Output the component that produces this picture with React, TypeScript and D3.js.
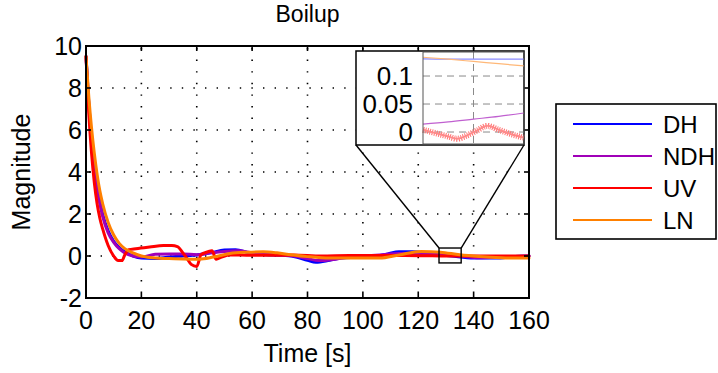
import React from "react";
import * as d3 from "d3";

const W = 718;
const H = 373;

// ---------- data ----------
const xTicks = [0, 20, 40, 60, 80, 100, 120, 140, 160];
const yTicks = [-2, 0, 2, 4, 6, 8, 10];
const seriesNames = ["DH", "NDH", "UV", "LN"];
const seriesColors = ["#0000ff", "#a000b8", "#ff0000", "#ff8000"];

const tDH = [0, 1, 2, 3, 4, 5, 6, 8, 10, 12, 14, 17, 20, 25, 30, 35, 40, 45, 50, 54, 59, 65, 70, 75, 80, 83, 88, 92, 97, 104, 109, 113, 118, 125, 132, 140, 148, 155, 160];
const vDH = [9.5, 7.3, 5.6, 4.3, 3.3, 2.6, 2.0, 1.2, 0.7, 0.4, 0.2, 0.0, -0.1, -0.12, -0.05, 0.0, 0.05, 0.15, 0.28, 0.3, 0.15, 0.06, 0.04, -0.02, -0.2, -0.3, -0.2, -0.1, -0.06, -0.03, 0.1, 0.2, 0.2, 0.1, 0.0, -0.1, -0.1, -0.02, 0.0];

const tNDH = [0, 1, 2, 3, 4, 5, 6, 8, 10, 12, 14, 17, 20, 25, 30, 35, 40, 45, 50, 55, 60, 65, 70, 75, 80, 84, 90, 95, 100, 106, 113, 120, 128, 135, 142, 150, 160];
const vNDH = [9.5, 7.2, 5.5, 4.2, 3.2, 2.5, 1.9, 1.1, 0.65, 0.35, 0.15, 0.0, -0.05, 0.08, 0.1, 0.1, 0.06, 0.15, 0.22, 0.25, 0.15, 0.08, 0.05, 0.0, -0.12, -0.22, -0.15, -0.05, 0.0, 0.05, 0.12, 0.12, 0.05, 0.0, -0.08, -0.05, 0.0];

const tUV = [0, 1, 2, 3, 4, 5, 6, 8, 10, 11.6, 13, 14, 15.5, 18, 23, 28, 31, 33, 35, 36.5, 38, 40, 41.5, 44, 45.5, 47, 49, 52, 58, 65, 75, 85, 95, 105, 115, 125, 135, 145, 160];
const vUV = [9.5, 6.8, 4.9, 3.5, 2.5, 1.8, 1.3, 0.5, 0.0, -0.22, -0.22, 0.05, 0.3, 0.35, 0.43, 0.5, 0.5, 0.45, 0.15, -0.12, -0.4, -0.5, 0.05, 0.2, 0.25, -0.15, -0.05, 0.05, 0.04, 0.03, 0.05, 0.0, 0.02, 0.02, 0.02, 0.01, 0.0, 0.0, 0.0];

const tLN = [0, 1, 2, 3, 4, 5, 6, 8, 10, 12, 14, 17, 20, 25, 30, 35, 41, 46, 52, 58, 64, 69, 74, 80, 88, 96, 106, 113, 121, 128, 135, 142, 150, 157, 160];
const vLN = [9.5, 7.6, 6.1, 4.9, 3.9, 3.1, 2.5, 1.6, 1.0, 0.6, 0.35, 0.15, 0.0, -0.1, -0.12, -0.14, -0.15, -0.05, 0.12, 0.18, 0.2, 0.15, 0.06, -0.03, -0.1, -0.1, -0.1, 0.05, 0.22, 0.18, 0.06, -0.02, -0.08, -0.1, -0.1];

// zoom window (data coords of small rectangle)
const zoomX = [127.5, 135.5];
const zoomY = [-0.33, 0.38];

// inset data
const insetXTicks = [132];
const insetYTicks = [0, 0.05, 0.1];
const insetYLabels = ["0", "0.05", "0.1"];
const itDH = [128, 130, 132, 134, 136];
const ivDH = [0.1305, 0.1302, 0.13, 0.13, 0.1301];
const itNDH = [128, 130, 132, 134, 136];
const ivNDH = [0.014, 0.018, 0.023, 0.028, 0.034];
const itUV = [128, 129, 130, 130.7, 131.5, 132.3, 133.1, 134, 135, 136];
const ivUV = [0.004, -0.002, -0.008, -0.012, -0.006, 0.003, 0.011, 0.004, -0.004, -0.01];
const itLN = [128, 130, 132, 134, 136];
const ivLN = [0.1335, 0.13, 0.126, 0.122, 0.118];

// ---------- layout ----------
const PL = 86, PR = 529, PT = 46, PB = 298;
const FONT = "'Liberation Sans', Arial, Helvetica, sans-serif";

export default function App() {
  const x = d3.scaleLinear().domain([0, 160]).range([PL, PR]);
  const y = d3.scaleLinear().domain([-2, 10]).range([PB, PT]);

  const line = (ts: number[], vs: number[]) =>
    d3
      .line<number>()
      .x((_, i) => x(ts[i]))
      .y((v) => y(v))
      .curve(d3.curveMonotoneX)(vs) as string;

  const mainSeries = [
    [tDH, vDH],
    [tNDH, vNDH],
    [tUV, vUV],
    [tLN, vLN],
  ];

  // inset
  const IL = 423, IR = 524, IT = 52, IB = 144;
  const ix = d3.scaleLinear().domain([128, 136]).range([IL, IR]);
  const iy = d3.scaleLinear().domain([-0.0214, 0.1429]).range([IB, IT]);
  const iline = (ts: number[], vs: number[]) =>
    d3
      .line<number>()
      .x((_, i) => ix(ts[i]))
      .y((v) => iy(v))
      .curve(d3.curveMonotoneX)(vs) as string;

  const BOX = { l: 356, t: 51, r: 524, b: 145 };

  const zx0 = x(zoomX[0]), zx1 = x(zoomX[1]);
  const zy0 = y(zoomY[1]), zy1 = y(zoomY[0]);

  const tick = 5;

  return (
    <svg
      width={W}
      height={H}
      style={{ position: "absolute", left: 0, top: 0, background: "#fff" }}
      fontFamily={FONT}
    >
      <rect x={0} y={0} width={W} height={H} fill="#fff" />
      {/* grid */}
      <g stroke="#000" strokeWidth={1.6} strokeDasharray="1.4 10.2">
        {xTicks.slice(1, -1).map((t) => (
          <line key={"gx" + t} x1={x(t)} x2={x(t)} y1={PT + 2} y2={PB} />
        ))}
        {yTicks.slice(1, -1).map((t) => (
          <line key={"gy" + t} x1={PL + 3} x2={PR} y1={y(t)} y2={y(t)} />
        ))}
      </g>

      {/* series */}
      <g fill="none" strokeWidth={3} strokeLinejoin="round" strokeLinecap="round">
        {mainSeries.map((s, i) => (
          <path key={i} d={line(s[0], s[1])} stroke={seriesColors[i]} />
        ))}
      </g>

      {/* frame */}
      <rect x={PL} y={PT} width={PR - PL} height={PB - PT} fill="none" stroke="#000" strokeWidth={2} />
      <g stroke="#000" strokeWidth={1.6}>
        {xTicks.map((t) => (
          <g key={"tx" + t}>
            <line x1={x(t)} x2={x(t)} y1={PB} y2={PB - tick} />
            <line x1={x(t)} x2={x(t)} y1={PT} y2={PT + tick} />
          </g>
        ))}
        {yTicks.map((t) => (
          <g key={"ty" + t}>
            <line x1={PL} x2={PL + tick} y1={y(t)} y2={y(t)} />
            <line x1={PR} x2={PR - tick} y1={y(t)} y2={y(t)} />
          </g>
        ))}
      </g>

      {/* tick labels */}
      <g fontSize={25} fill="#000">
        {xTicks.map((t) => (
          <text key={"lx" + t} x={x(t)} y={329} textAnchor="middle">
            {t}
          </text>
        ))}
        {yTicks.map((t) => (
          <text key={"ly" + t} x={82} y={y(t)} textAnchor="end" dominantBaseline="central">
            {t}
          </text>
        ))}
      </g>

      {/* labels */}
      <text x={(PL + PR) / 2} y={22} textAnchor="middle" fontSize={23}>
        Boilup
      </text>
      <text x={(PL + PR) / 2} y={362} textAnchor="middle" fontSize={25}>
        Time [s]
      </text>
      <text
        transform={`translate(30,${(PT + PB) / 2}) rotate(-90)`}
        textAnchor="middle"
        fontSize={25}
      >
        Magnitude
      </text>

      {/* zoom rect & connectors */}
      <g stroke="#000" strokeWidth={1.4} fill="none">
        <rect x={zx0} y={zy0} width={zx1 - zx0} height={zy1 - zy0} />
        <line x1={BOX.l} y1={BOX.b} x2={zx0} y2={zy0} />
        <line x1={BOX.r} y1={BOX.b} x2={zx1} y2={zy0} />
      </g>

      {/* inset */}
      <rect x={BOX.l} y={BOX.t} width={BOX.r - BOX.l} height={BOX.b - BOX.t} fill="#fff" stroke="#000" strokeWidth={1.5} />
      <g stroke="#8a8a8a" strokeWidth={1} strokeDasharray="7 5">
        {insetXTicks.map((t) => (
          <line key={"igx" + t} x1={ix(t)} x2={ix(t)} y1={IT} y2={IB} />
        ))}
        {insetYTicks.map((t) => (
          <line key={"igy" + t} x1={IL} x2={IR} y1={iy(t)} y2={iy(t)} />
        ))}
      </g>
      <g fill="none">
        <path d={iline(itDH, ivDH)} stroke="#8a8aff" strokeWidth={1.2} />
        <path d={iline(itLN, ivLN)} stroke="#ffb878" strokeWidth={1.2} />
        <path d={iline(itNDH, ivNDH)} stroke="#c060d0" strokeWidth={1.2} />
        <path d={iline(itUV, ivUV)} stroke="#ff7070" strokeWidth={6} strokeDasharray="1 1.3" />
        <path d={iline(itUV, ivUV)} stroke="#ff8a8a" strokeWidth={2} />
      </g>
      <rect x={IL} y={IT} width={IR - IL} height={IB - IT} fill="none" stroke="#555" strokeWidth={1} />
      <g fontSize={26} fill="#000">
        {insetYTicks.map((t, i) => (
          <text key={"ily" + t} x={413} y={iy(t)} textAnchor="end" dominantBaseline="central">
            {insetYLabels[i]}
          </text>
        ))}
      </g>

      {/* legend */}
      <rect x={556} y={104} width={160} height={135} fill="#fff" stroke="#000" strokeWidth={1.6} />
      {seriesNames.map((n, i) => (
        <g key={n}>
          <line x1={573} x2={652} y1={124 + i * 32} y2={124 + i * 32} stroke={seriesColors[i]} strokeWidth={2.2} />
          <text x={663} y={124 + i * 32} dominantBaseline="central" fontSize={24}>
            {n}
          </text>
        </g>
      ))}
    </svg>
  );
}
